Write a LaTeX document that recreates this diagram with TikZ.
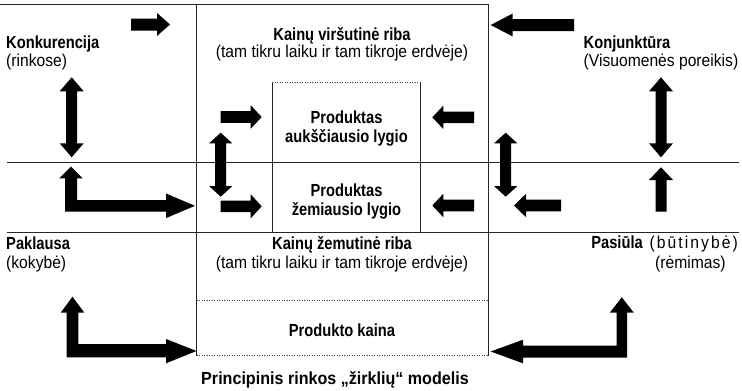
\documentclass[tikz,border=0pt]{standalone}
\usepackage{fontspec}
\setmainfont{Liberation Sans}[FakeStretch=0.91]
\newfontfamily\bnarrow{Liberation Sans}[FakeStretch=0.84]
\newfontfamily\bwide{Liberation Sans}[FakeStretch=0.92]
\newfontfamily\spacedf{Liberation Sans}[FakeStretch=0.91,LetterSpace=12]
\newcommand\HArr[6]{% tail, tip, y, body half, head half, signed head length
  \fill (#1,{#3-#4}) -- ({#2-(#6)},{#3-#4}) -- ({#2-(#6)},{#3-#5}) -- (#2,#3) -- ({#2-(#6)},{#3+#5}) -- ({#2-(#6)},{#3+#4}) -- (#1,{#3+#4}) -- cycle;}
\newcommand\VDArr[6]{% x, top tip, bottom tip, body half, head half, head length
  \fill (#1,#2) -- ({#1+#5},{#2+#6}) -- ({#1+#4},{#2+#6}) -- ({#1+#4},{#3-#6}) -- ({#1+#5},{#3-#6}) -- (#1,#3) -- ({#1-#5},{#3-#6}) -- ({#1-#4},{#3-#6}) -- ({#1-#4},{#2+#6}) -- ({#1-#5},{#2+#6}) -- cycle;}
\newcommand\UArr[6]{% x, tip, bottom, body half, head half, head length
  \fill (#1,#2) -- ({#1+#5},{#2+#6}) -- ({#1+#4},{#2+#6}) -- ({#1+#4},#3) -- ({#1-#4},#3) -- ({#1-#4},{#2+#6}) -- ({#1-#5},{#2+#6}) -- cycle;}
\tikzset{
  ln/.style={line width=0.9pt, black!85},
  dotln/.style={line width=0.8pt, dash pattern=on 1.2pt off 1.3pt, black!75},
  bt/.style={font=\bnarrow\bfseries\fontsize{17.5}{20}\selectfont, inner sep=0pt},
  rt/.style={font=\fontsize{17.2}{20}\selectfont, inner sep=0pt},
}
\begin{document}
\begin{tikzpicture}[x=1pt,y=-1pt]
\useasboundingbox[fill=white] (0,0) rectangle (742,391);
% frame lines
\draw[ln] (0,4) -- (488.3,4);
\draw[ln] (7,162.7) -- (739,162.7);
\draw[ln] (7,232) -- (739,232);
\draw[ln] (196.5,4) -- (196.5,355.5);
\draw[ln] (488.3,4) -- (488.3,355.5);
\draw[ln] (272,82.5) -- (272,232);
\draw[ln] (420.7,82.5) -- (420.7,232);
\draw[dotln] (272,82) -- (420.7,82);
\draw[dotln] (196.5,300) -- (488.3,300);
\draw[dotln] (196.5,355.5) -- (488.3,355.5);
% texts
\node[bt, anchor=base west] (konk) at (6,48) {Konkurencija};
\node[rt, anchor=base west] (konkb) at (6,66) {(rinkose)};
\node[bt, anchor=base west] (konj) at (583.5,48) {Konjunktūra};
\node[rt, anchor=base west] (konjb) at (583.5,66) {(Visuomenės poreikis)};
\node[bt, anchor=base] (vir) at (342,40) {Kainų viršutinė riba};
\node[rt, anchor=base] (virb) at (342,57) {(tam tikru laiku ir tam tikroje erdvėje)};
\node[bt, anchor=base] (p1) at (346.5,123) {Produktas};
\node[bt, anchor=base] (p1b) at (346.5,142) {aukščiausio lygio};
\node[bt, anchor=base] (p2) at (346.5,196) {Produktas};
\node[bt, anchor=base] (p2b) at (346.5,215.5) {žemiausio lygio};
\node[bt, anchor=base west] (pak) at (6,249) {Paklausa};
\node[rt, anchor=base west] (pakb) at (6,268) {(kokybė)};
\node[bt, anchor=base] (zem) at (342,249) {Kainų žemutinė riba};
\node[rt, anchor=base] (zemb) at (342,268) {(tam tikru laiku ir tam tikroje erdvėje)};
\node[bt, anchor=base] (pk) at (342,336) {Produkto kaina};
\node[bt, font=\bwide\bfseries\fontsize{17.5}{20}\selectfont, anchor=base] (capt) at (335,384.5) {Principinis rinkos „žirklių“ modelis};
\node[bt, anchor=base east] (pas) at (643,248) {Pasiūla};
\node[rt, anchor=base east] (pasb) at (738,248) {\spacedf (būtinybė)};
\node[rt, anchor=base west] (rem) at (655,268) {(rėmimas)};
% block arrows
\HArr{131}{170}{24.5}{6}{11.5}{13}
\HArr{574}{490.7}{25}{6}{11.5}{-22}
\VDArr{71.7}{77.3}{157.3}{5.5}{12}{14}
\VDArr{661}{77.3}{157.3}{5.5}{12}{14}
\UArr{661}{167.3}{211.7}{5.5}{12}{12.7}
\HArr{220.7}{261.7}{117}{5.8}{11.7}{11}
\HArr{220.7}{261.7}{206.3}{5.8}{12}{11}
\VDArr{220.7}{132.7}{196.7}{5.5}{11.7}{10.7}
\HArr{474}{432.3}{117.3}{5.8}{11.7}{-11}
\HArr{474}{432.3}{205.5}{5.8}{11.7}{-11}
\VDArr{505.7}{132.7}{196.7}{5.5}{11.7}{10.7}
\HArr{561}{514}{205.5}{5.8}{11.7}{-12}
% L-shaped arrows
\fill (71,166.7) -- (82.7,178.3) -- (77,178.3) -- (77,200) -- (166,200) -- (166,193.5)
  -- (195,205.8) -- (166,218.1) -- (166,211.7) -- (65,211.7) -- (65,178.3) -- (59.3,178.3) -- cycle;
\fill (72.5,296.7) -- (84.3,312.7) -- (78.3,312.7) -- (78.3,344) -- (166,344) -- (166,339)
  -- (196.5,351) -- (166,363.3) -- (166,357.3) -- (66.7,357.3) -- (66.7,312.7) -- (60.7,312.7) -- cycle;
\fill (621.8,297.3) -- (633.8,312.7) -- (627,312.7) -- (627,357.5) -- (523,357.5) -- (523,363.3)
  -- (490.7,351.5) -- (523,339.7) -- (523,345.5) -- (616.6,345.5) -- (616.6,312.7) -- (609.8,312.7) -- cycle;
\end{tikzpicture}
\end{document}
